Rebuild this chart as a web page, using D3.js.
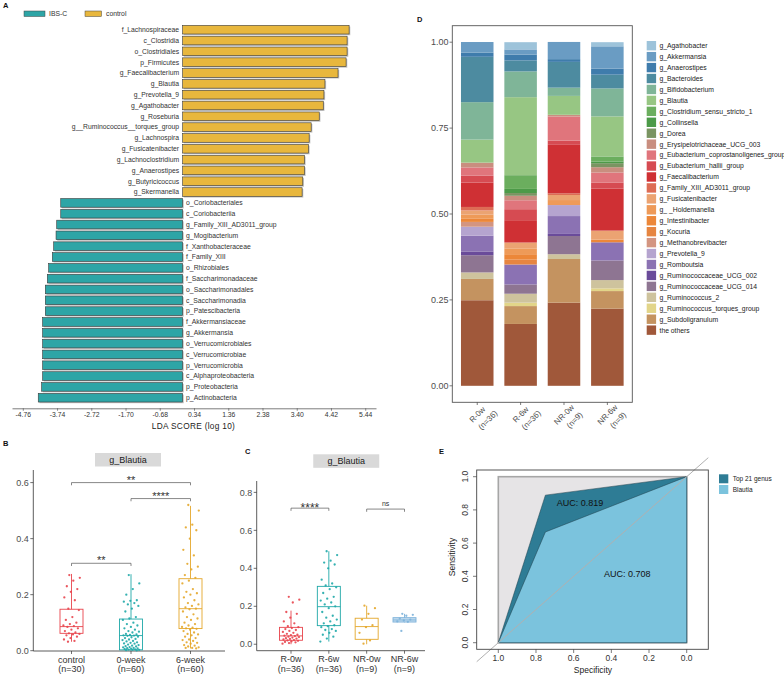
<!DOCTYPE html>
<html><head><meta charset="utf-8">
<script src="https://cdn.jsdelivr.net/npm/d3@7"></script>
<style>body{margin:0;background:#fff}svg{font-family:"Liberation Sans",Arial,sans-serif;display:block}</style>
</head><body><svg id="c" width="784" height="676"></svg>
<script>
// ---------------- DATA ----------------
// Panel A (LEfSe)
const ldaTaxa = ["f_Lachnospiraceae","c_Clostridia","o_Clostridiales","p_Firmicutes","g_Faecalibacterium","g_Blautia","g_Prevotella_9","g_Agathobacter","g_Roseburia","g__Ruminococcus__torques_group","g_Lachnospira","g_Fusicatenibacter","g_Lachnoclostridium","g_Anaerostipes","g_Butyricicoccus","g_Skermanella","o_Coriobacteriales","c_Coriobacteriia","g_Family_XIII_AD3011_group","g_Mogibacterium","f_Xanthobacteraceae","f_Family_XIII","o_Rhizobiales","f_Saccharimonadaceae","o_Saccharimonadales","c_Saccharimonadia","p_Patescibacteria","f_Akkermansiaceae","g_Akkermansia","o_Verrucomicrobiales","c_Verrucomicrobiae","p_Verrucomicrobia","c_Alphaproteobacteria","p_Proteobacteria","p_Actinobacteria"];
const ldaScores = [4.96,4.90,4.90,4.87,4.63,4.24,4.21,4.19,4.07,3.83,3.77,3.75,3.63,3.63,3.58,3.56,-3.63,-3.63,-3.75,-3.77,-3.84,-3.88,-3.99,-4.03,-4.09,-4.09,-4.09,-4.17,-4.17,-4.17,-4.17,-4.17,-4.17,-4.20,-4.30];
const ldaTicks = [-4.76,-3.74,-2.72,-1.70,-0.68,0.34,1.36,2.38,3.40,4.42,5.44];
const ldaGroups = ["IBS-C","control"];

// Panel B (boxplots, g_Blautia)
const bGroups = ["control","0-week","6-week"];
const bN = ["(n=30)","(n=60)","(n=60)"];
const bLow = [0.032,0.000,0.008];
const bQ1 = [0.062,0.003,0.079];
const bMed = [0.086,0.054,0.150];
const bQ3 = [0.148,0.113,0.257];
const bHigh = [0.274,0.273,0.517];
const bControl = [0.27,0.26,0.25,0.23,0.22,0.21,0.19,0.18,0.15,0.145,0.12,0.11,0.10,0.095,0.09,0.088,0.085,0.08,0.075,0.07,0.065,0.062,0.06,0.058,0.055,0.05,0.045,0.04,0.035,0.032];
const bWeek0 = [0.27,0.24,0.22,0.20,0.18,0.178,0.175,0.17,0.165,0.16,0.15,0.14,0.12,0.115,0.11,0.10,0.095,0.09,0.085,0.08,0.075,0.07,0.068,0.065,0.06,0.058,0.056,0.055,0.054,0.053,0.05,0.048,0.045,0.042,0.04,0.038,0.035,0.033,0.03,0.028,0.026,0.025,0.022,0.02,0.018,0.016,0.015,0.013,0.012,0.01,0.009,0.008,0.007,0.006,0.005,0.004,0.003,0.003,0.002,0.001];
const bWeek6 = [0.52,0.50,0.45,0.44,0.43,0.40,0.36,0.34,0.31,0.30,0.29,0.27,0.26,0.25,0.24,0.22,0.21,0.205,0.20,0.19,0.18,0.17,0.165,0.16,0.155,0.15,0.148,0.14,0.13,0.12,0.115,0.11,0.10,0.095,0.09,0.085,0.082,0.08,0.078,0.075,0.07,0.065,0.06,0.058,0.055,0.05,0.045,0.04,0.038,0.035,0.03,0.028,0.025,0.02,0.018,0.015,0.012,0.01,0.01,0.008];
const bColors = ["#E8444C","#1FA8A8","#E4A72B"];

// Panel C
const cGroups = ["R-0w","R-6w","NR-0w","NR-6w"];
const cN = ["(n=36)","(n=36)","(n=9)","(n=9)"];
const cLow = [0.000,0.014,0.000,0.115];
const cQ1 = [0.021,0.098,0.026,0.117];
const cMed = [0.044,0.198,0.093,0.128];
const cQ3 = [0.089,0.305,0.137,0.140];
const cHigh = [0.177,0.490,0.203,0.160];
const cR0 = [0.25,0.235,0.22,0.17,0.16,0.14,0.12,0.11,0.095,0.09,0.085,0.08,0.075,0.07,0.065,0.06,0.055,0.05,0.048,0.045,0.043,0.04,0.038,0.035,0.032,0.03,0.028,0.025,0.022,0.02,0.018,0.015,0.012,0.01,0.006,0.003];
const cR6 = [0.49,0.47,0.44,0.43,0.42,0.40,0.34,0.32,0.31,0.30,0.29,0.27,0.25,0.24,0.23,0.22,0.21,0.20,0.19,0.17,0.15,0.14,0.13,0.12,0.11,0.10,0.095,0.09,0.08,0.075,0.07,0.06,0.05,0.04,0.03,0.014];
const cNR0 = [0.203,0.19,0.16,0.13,0.10,0.09,0.06,0.02,0.003];
const cNR6 = [0.16,0.155,0.15,0.135,0.13,0.125,0.12,0.118,0.07];
const cColors = ["#E8444C","#1FA8A8","#E4A72B","#7DB2DA"];

// Panel D (relative abundance)
const dGroups = ["R-0w","R-6w","NR-0w","NR-6w"];
const dN = ["(n=36)","(n=36)","(n=9)","(n=9)"];
const genera = ["g_Agathobacter","g_Akkermansia","g_Anaerostipes","g_Bacteroides","g_Bifidobacterium","g_Blautia","g_Clostridium_sensu_stricto_1","g_Collinsella","g_Dorea","g_Erysipelotrichaceae_UCG_003","g_Eubacterium_coprostanoligenes_group","g_Eubacterium_hallii_group","g_Faecalibacterium","g_Family_XIII_AD3011_group","g_Fusicatenibacter","g_ _Holdemanella","g_Intestinibacter","g_Kocuria","g_Methanobrevibacter","g_Prevotella_9","g_Romboutsia","g_Ruminococcaceae_UCG_002","g_Ruminococcaceae_UCG_014","g_Ruminococcus_2","g_Ruminococcus_torques_group","g_Subdoligranulum","the others"];
const genusColors = ["#9DC3DA","#6A9CC3","#3F7CAC","#4D8BA0","#7FB598","#97C683","#6BAE5E","#4C9A48","#7A9462","#C98E7F","#E0757C","#D64B52","#CF3034","#DD6C55","#EBA372","#EE9A58","#EC8739","#E68540","#D39581","#B5A4CF","#8B72B3","#6A4B9A","#8E7592","#CEC39D","#E2D589","#C49360","#A0583A"];
const abundR0w  = [0,0.031,0.012,0.132,0.109,0.067,0,0,0,0.014,0.024,0.020,0.071,0.010,0.0125,0.012,0.009,0,0.014,0.026,0.046,0.011,0.050,0.019,0,0.062,0.249];
const abundR6w  = [0.021,0.015,0.017,0.032,0.075,0.227,0.040,0.012,0.008,0.013,0.026,0.032,0.065,0,0.017,0.017,0.015,0.015,0,0,0.058,0,0.027,0.026,0.010,0.052,0.180];
const abundNR0w = [0,0.050,0.008,0.075,0.024,0.055,0,0,0,0.005,0.070,0.0125,0.141,0.005,0.0146,0.0146,0,0,0,0.032,0.052,0.006,0.053,0.014,0,0.127,0.242];
const abundNR6w = [0.012,0.065,0.0175,0.040,0.0815,0.1165,0.0146,0.005,0.0117,0.0155,0.029,0.018,0.122,0,0.026,0,0.008,0,0,0,0.053,0,0.057,0.024,0.008,0.051,0.2247];
const dTicks = [0,0.25,0.5,0.75,1.0];

// Panel E (ROC)
const rocNames = ["Top 21 genus","Blautia"];
const rocSpec = [1,0.75,0];
const rocSensTop21 = [0,0.889,1];
const rocSensBlautia = [0,0.667,1];
const rocAUC = ["AUC: 0.819","AUC: 0.708"];
const rocColors = ["#2E7C95","#7BC3DD"];
const eTicks = [0,0.2,0.4,0.6,0.8,1.0];

// ---------------- DRAW ----------------
const svg = d3.select("#c");
const ink = "#333", tickTxt = "#4d4d4d";

function panelLabel(t,x,y){svg.append("text").attr("x",x).attr("y",y).attr("font-size",7.5).attr("font-weight","bold").attr("fill","#111").text(t);}
panelLabel("A",3,8); panelLabel("B",3,446); panelLabel("C",245,454); panelLabel("D",417,21.5); panelLabel("E",439,454);

// ===== Panel A =====
{
  const x = d3.scaleLinear().domain([-5.082,5.761]).range([12,376]);
  const y = d3.scaleBand().domain(ldaTaxa).range([24.29,403.11]).paddingInner(0.2).paddingOuter(0.1);
  const col = v => v<0 ? "#2DA5A6" : "#E8B73D";
  const g = svg.append("g");
  const rows = ldaTaxa.map((t,i)=>({t,v:ldaScores[i]}));
  g.selectAll(".sh").data(rows).join("rect")
    .attr("x",d=>Math.min(x(0),x(d.v))+1.2).attr("y",d=>y(d.t)+1.2)
    .attr("width",d=>Math.abs(x(d.v)-x(0))).attr("height",y.bandwidth()).attr("fill","#c4c4c4");
  g.selectAll(".bar").data(rows).join("rect")
    .attr("x",d=>Math.min(x(0),x(d.v))).attr("y",d=>y(d.t))
    .attr("width",d=>Math.abs(x(d.v)-x(0))).attr("height",y.bandwidth())
    .attr("fill",d=>col(d.v)).attr("stroke","#3a3a3a").attr("stroke-width",0.6);
  g.selectAll(".lab").data(rows).join("text")
    .attr("x",d=>d.v>0? x(0)-3.5 : x(0)+3.5).attr("y",d=>y(d.t)+y.bandwidth()/2)
    .attr("dy","0.35em").attr("text-anchor",d=>d.v>0?"end":"start")
    .attr("font-size",6.8).attr("fill","#333").text(d=>d.t);
  const ax = g.append("g").attr("transform","translate(0,408.3)")
    .call(d3.axisBottom(x).tickValues(ldaTicks).tickFormat(d=>d.toFixed(2)).tickSize(2.5).tickSizeOuter(0));
  ax.select(".domain").attr("stroke","#444").attr("stroke-width",0.7);
  ax.selectAll(".tick line").attr("stroke","#444").attr("stroke-width",0.6);
  ax.selectAll("text").attr("font-size",6.8).attr("fill","#333").attr("font-family",null).attr("dy","0.5em");
  g.append("text").attr("x",193.5).attr("y",429).attr("text-anchor","middle").attr("font-size",8.3).attr("fill","#222").attr("letter-spacing",0.3).text("LDA SCORE (log 10)");
  // legend
  const lg = g.append("g");
  const lx = [24,85];
  ldaGroups.forEach((n,i)=>{
    lg.append("rect").attr("x",lx[i]).attr("y",11).attr("width",i?16.5:21).attr("height",5.5)
      .attr("fill",i?"#E8B73D":"#2DA5A6").attr("stroke","#444").attr("stroke-width",0.5);
    lg.append("text").attr("x",lx[i]+(i?21:25)).attr("y",14).attr("dy","0.35em").attr("font-size",6.8).attr("fill","#333").text(n);
  });
}

// helpers for box panels
function jitter(i,w){ const f = (i*0.61803398875 + 0.37) % 1; return (f-0.5)*2*w; }
function boxPanel(opt){
  const g = svg.append("g");
  const y = d3.scaleLinear().domain(opt.yDomain).range(opt.yRange);
  const x = d3.scalePoint().domain(opt.groups).range(opt.xCenters);
  // axes lines
  g.append("line").attr("x1",opt.axisX[0]).attr("x2",opt.axisX[0]).attr("y1",opt.yRange[1]).attr("y2",opt.axisY).attr("stroke",ink).attr("stroke-width",0.8);
  g.append("line").attr("x1",opt.axisX[0]).attr("x2",opt.axisX[1]).attr("y1",opt.axisY).attr("y2",opt.axisY).attr("stroke",ink).attr("stroke-width",0.8);
  opt.yTicks.forEach(t=>{
    g.append("line").attr("x1",opt.axisX[0]-3).attr("x2",opt.axisX[0]).attr("y1",y(t)).attr("y2",y(t)).attr("stroke",ink).attr("stroke-width",0.7);
    g.append("text").attr("x",opt.axisX[0]-4.5).attr("y",y(t)).attr("dy","0.35em").attr("text-anchor","end").attr("font-size",9).attr("fill",tickTxt).text(t.toFixed(1));
  });
  opt.groups.forEach((gr,i)=>{
    const cx = x(gr);
    g.append("line").attr("x1",cx).attr("x2",cx).attr("y1",opt.axisY).attr("y2",opt.axisY+3).attr("stroke",ink).attr("stroke-width",0.7);
    g.append("text").attr("x",cx).attr("y",opt.axisY+11.5).attr("text-anchor","middle").attr("font-size",9).attr("fill","#333").text(gr);
    g.append("text").attr("x",cx).attr("y",opt.axisY+21).attr("text-anchor","middle").attr("font-size",9).attr("fill","#333").text(opt.ns[i]);
    const c = opt.colors[i], hw = opt.boxW/2;
    g.append("line").attr("x1",cx).attr("x2",cx).attr("y1",y(opt.high[i])).attr("y2",y(opt.q3[i])).attr("stroke",c).attr("stroke-width",0.9);
    g.append("line").attr("x1",cx).attr("x2",cx).attr("y1",y(opt.q1[i])).attr("y2",y(opt.low[i])).attr("stroke",c).attr("stroke-width",0.9);
    g.append("rect").attr("x",cx-hw).attr("y",y(opt.q3[i])).attr("width",opt.boxW).attr("height",Math.max(0.5,y(opt.q1[i])-y(opt.q3[i])))
      .attr("fill",opt.fills?opt.fills[i]:"none").attr("stroke",c).attr("stroke-width",0.9);
    g.append("line").attr("x1",cx-hw).attr("x2",cx+hw).attr("y1",y(opt.med[i])).attr("y2",y(opt.med[i])).attr("stroke",c).attr("stroke-width",0.9);
    g.selectAll(null).data(opt.points[i]).join("circle")
      .attr("cx",(d,j)=>cx+jitter(j,opt.jw)).attr("cy",d=>y(d)).attr("r",1.15).attr("fill",c).attr("opacity",0.9);
  });
  // strip
  const sc = (x(opt.groups[0])+x(opt.groups[opt.groups.length-1]))/2 + opt.stripShift;
  g.append("rect").attr("x",sc-33).attr("y",opt.stripY).attr("width",66).attr("height",13.5).attr("fill","#D9D9D9");
  g.append("text").attr("x",sc).attr("y",opt.stripY+6.75).attr("dy","0.35em").attr("text-anchor","middle").attr("font-size",9).attr("fill","#1a1a1a").text("g_Blautia");
  // brackets
  opt.brackets.forEach(b=>{
    const x1 = x(b.a), x2 = x(b.b), yy = y(b.y);
    g.append("path").attr("d",`M${x1},${yy+2.7}V${yy}H${x2}V${yy+2.7}`).attr("fill","none").attr("stroke","#555").attr("stroke-width",0.7);
    g.append("text").attr("x",(x1+x2)/2).attr("y",yy+b.dy).attr("text-anchor","middle").attr("font-size",b.fs).attr("fill","#333").text(b.label);
  });
}

boxPanel({groups:bGroups, ns:bN, yDomain:[0,0.645], yRange:[650.7,470], xCenters:[71.5,190.5], axisX:[33.3,225], axisY:651,
  yTicks:[0,0.2,0.4,0.6], colors:bColors, boxW:23, jw:8.5, low:bLow,q1:bQ1,med:bMed,q3:bQ3,high:bHigh,
  points:[bControl,bWeek0,bWeek6], stripY:453, stripShift:-3,
  brackets:[{a:"control",b:"6-week",y:0.6,label:"**",dy:1,fs:11},{a:"0-week",b:"6-week",y:0.543,label:"****",dy:1,fs:11},{a:"control",b:"0-week",y:0.312,label:"**",dy:1,fs:11}]});

boxPanel({groups:cGroups, ns:cN, yDomain:[-0.034,0.86], yRange:[650.7,481], xCenters:[291,404.5], axisX:[256.7,425], axisY:650.7,
  yTicks:[0,0.2,0.4,0.6,0.8], colors:cColors, fills:["none","none","none","rgba(125,178,218,0.45)"], boxW:23, jw:8.5, low:cLow,q1:cQ1,med:cMed,q3:cQ3,high:cHigh,
  points:[cR0,cR6,cNR0,cNR6], stripY:454.3, stripShift:-1.5,
  brackets:[{a:"R-0w",b:"R-6w",y:0.717,label:"****",dy:4,fs:12},{a:"NR-0w",b:"NR-6w",y:0.712,label:"ns",dy:-3,fs:7}]});

// ===== Panel D =====
{
  const g = svg.append("g");
  const y = d3.scaleLinear().domain([-0.048,1.048]).range([402.3,25.7]);
  const x = d3.scaleBand().domain(dGroups).range([452.3,632.3]).paddingInner(0.25).paddingOuter(0.2);
  const abund = [abundR0w,abundR6w,abundNR0w,abundNR6w];
  const rows = dGroups.map((gr,i)=>{ const o={group:gr}; genera.forEach((k,j)=>o[k]=abund[i][j]); return o; });
  const keys = genera.slice().reverse();
  const color = d3.scaleOrdinal().domain(genera).range(genusColors);
  const series = d3.stack().keys(keys)(rows);
  g.selectAll("g.s").data(series).join("g").attr("fill",d=>color(d.key))
    .selectAll("rect").data(d=>d).join("rect")
    .attr("x",d=>x(d.data.group)).attr("width",x.bandwidth())
    .attr("y",d=>y(d[1])).attr("height",d=>Math.max(0,y(d[0])-y(d[1])));
  g.append("rect").attr("x",452.3).attr("y",25.7).attr("width",180).attr("height",376.6).attr("fill","none").attr("stroke","#555").attr("stroke-width",0.9);
  dTicks.forEach(t=>{
    g.append("line").attr("x1",449.5).attr("x2",452.3).attr("y1",y(t)).attr("y2",y(t)).attr("stroke","#444").attr("stroke-width",0.7);
    g.append("text").attr("x",448.5).attr("y",y(t)).attr("dy","0.35em").attr("text-anchor","end").attr("font-size",9).attr("fill",tickTxt).text(t.toFixed(2));
  });
  dGroups.forEach((gr,i)=>{
    const cx = x(gr)+x.bandwidth()/2;
    g.append("line").attr("x1",cx).attr("x2",cx).attr("y1",402.3).attr("y2",405).attr("stroke","#444").attr("stroke-width",0.7);
    g.append("text").attr("transform",`translate(${cx},414.5) rotate(-45)`).attr("text-anchor","middle").attr("dy","0.35em").attr("font-size",8).attr("fill","#4d4d4d").text(gr);
    g.append("text").attr("transform",`translate(${cx+10.5},420) rotate(-45)`).attr("text-anchor","middle").attr("dy","0.35em").attr("font-size",8).attr("fill","#4d4d4d").text(dN[i]);
  });
  const lg = g.append("g");
  genera.forEach((k,i)=>{
    const yy = 45.7 + i*10.94;
    lg.append("rect").attr("x",646.7).attr("y",yy-4.7).attr("width",9.4).attr("height",9.4).attr("fill",color(k));
    lg.append("text").attr("x",659.5).attr("y",yy).attr("dy","0.35em").attr("font-size",6.8).attr("fill","#222").text(k);
  });
}

// ===== Panel E =====
{
  const g = svg.append("g");
  const x = d3.scaleLinear().domain([1.1147,-0.1147]).range([476.7,708.3]);
  const y = d3.scaleLinear().domain([0,1]).range([642.7,476.7]);
  const defs = svg.append("defs");
  defs.append("clipPath").attr("id","eclip").append("rect").attr("x",476.7).attr("y",470).attr("width",231.6).attr("height",179.3);
  // gray reference area
  g.append("rect").attr("x",x(1)).attr("y",y(1)).attr("width",x(0)-x(1)).attr("height",y(0)-y(1)).attr("fill","#E6E4E6").attr("stroke","#A6A6A6").attr("stroke-width",1.6);
  const curves = [rocSensTop21, rocSensBlautia];
  curves.forEach((sens,k)=>{
    const pts = rocSpec.map((s,i)=>[x(s),y(sens[i])]);
    pts.push([x(0),y(0)]);
    g.append("path").attr("d","M"+pts.map(p=>p.join(",")).join("L")+"Z").attr("fill",rocColors[k]).attr("stroke","#1f3f4a").attr("stroke-width",0.5);
  });
  // diagonal
  g.append("line").attr("x1",x(1.1147)).attr("y1",y(-0.1147)).attr("x2",x(-0.1147)).attr("y2",y(1.1147)).attr("stroke","#B0B0B0").attr("stroke-width",1);
  g.append("text").attr("x",x(0.69)).attr("y",y(0.84)).attr("dy","0.35em").attr("font-size",9).attr("fill","#111").text(rocAUC[0]);
  g.append("text").attr("x",x(0.439)).attr("y",y(0.412)).attr("dy","0.35em").attr("font-size",9).attr("fill","#111").text(rocAUC[1]);
  g.append("rect").attr("x",476.7).attr("y",470).attr("width",231.6).attr("height",179.3).attr("fill","none").attr("stroke","#444").attr("stroke-width",0.9);
  eTicks.forEach(t=>{
    g.append("line").attr("x1",x(t)).attr("x2",x(t)).attr("y1",649.3).attr("y2",653).attr("stroke","#444").attr("stroke-width",0.7);
    g.append("text").attr("x",x(t)).attr("y",658.5).attr("dy","0.35em").attr("text-anchor","middle").attr("font-size",8.5).attr("fill","#333").text(t.toFixed(1));
    g.append("line").attr("x1",473).attr("x2",476.7).attr("y1",y(t)).attr("y2",y(t)).attr("stroke","#444").attr("stroke-width",0.7);
    g.append("text").attr("transform",`translate(468,${y(t)}) rotate(-90)`).attr("text-anchor","middle").attr("font-size",8.5).attr("fill","#333").text(t.toFixed(1));
  });
  g.append("text").attr("x",593).attr("y",670.5).attr("dy","0.35em").attr("text-anchor","middle").attr("font-size",8.5).attr("fill","#222").text("Specificity");
  g.append("text").attr("transform","translate(454.5,557) rotate(-90)").attr("text-anchor","middle").attr("font-size",8.5).attr("fill","#222").text("Sensitivity");
  rocNames.forEach((n,i)=>{
    g.append("rect").attr("x",719).attr("y",474.3+i*10.7).attr("width",9.3).attr("height",9).attr("fill",rocColors[i]);
    g.append("text").attr("x",732.7).attr("y",479+i*10.7).attr("dy","0.35em").attr("font-size",6.5).attr("fill","#222").text(n);
  });
}
</script></body></html>
